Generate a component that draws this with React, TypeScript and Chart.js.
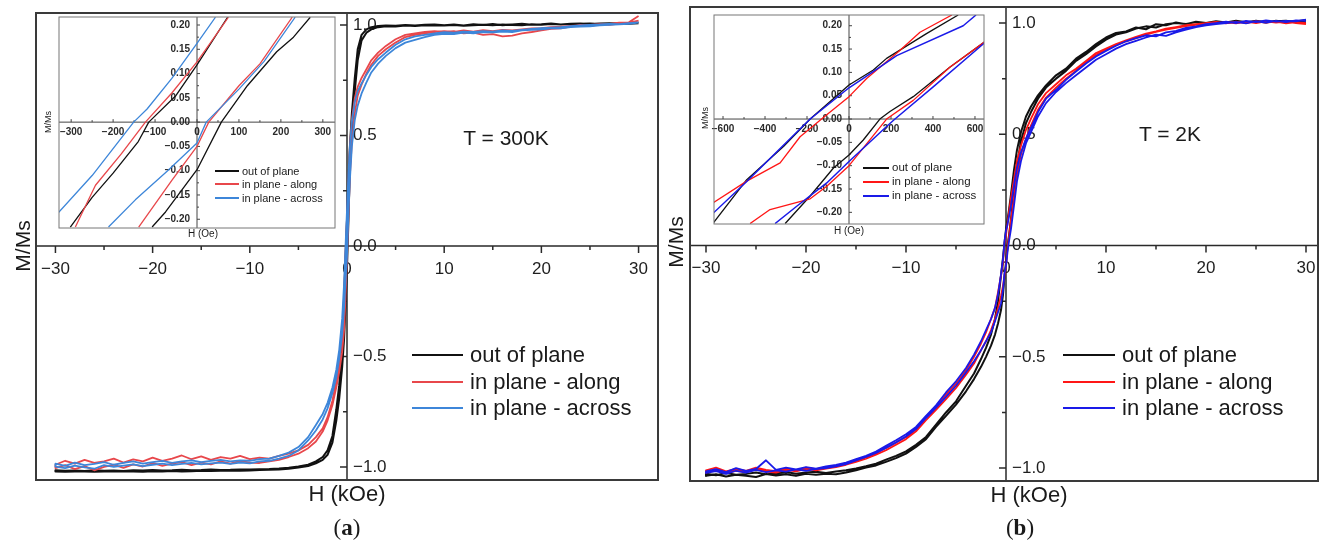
import React, { useEffect, useRef } from 'react';
import { Chart, registerables } from 'chart.js';

Chart.register(...registerables);

// ---------------- data ----------------
// field grid for the main loops (kOe), ascending
const H_MAIN = [
  -30, -29, -28, -27, -26, -25, -24, -23, -22, -21, -20, -19, -18, -17, -16, -15, -14, -13, -12, -11, -10,
  -9, -8, -7, -6, -5, -4, -3.2, -2.5, -2, -1.5, -1.1, -0.8, -0.5, -0.3, -0.15,
  0,
  0.15, 0.3, 0.5, 0.8, 1.1, 1.5, 2, 2.5, 3.2, 4, 5, 6, 7, 8, 9,
  10, 11, 12, 13, 14, 15, 16, 17, 18, 19, 20, 21, 22, 23, 24, 25, 26, 27, 28, 29, 30,
];

// (a) T = 300 K ; UP = branch swept down from +30 kOe, LO = branch swept up from -30 kOe
const A_OOP_UP = [
  -1.015, -1.017, -1.016, -1.018, -1.015, -1.017, -1.016, -1.018, -1.015, -1.016, -1.014, -1.016, -1.015, -1.013, -1.015, -1.014, -1.012, -1.014, -1.013, -1.011, -1.012,
  -1.010, -1.009, -1.007, -1.004, -0.998, -0.990, -0.975, -0.955, -0.925, -0.860, -0.740, -0.630, -0.450, -0.250, -0.050,
  0.118,
  0.300, 0.450, 0.600, 0.760, 0.890, 0.955, 0.980, 0.990, 0.995, 0.998, 0.996, 1.000, 0.997, 1.001, 1.002,
  0.999, 1.002, 0.998, 1.003, 1.000, 1.004, 0.999, 1.002, 1.005, 1.001, 1.003, 1.006, 1.002, 1.005, 1.007, 1.004, 1.006, 1.008, 1.005, 1.007, 1.010,
];
const A_OOP_LO = [
  -1.020, -1.022, -1.021, -1.020, -1.022, -1.021, -1.019, -1.021, -1.020, -1.022, -1.019, -1.020, -1.018, -1.020, -1.019, -1.017, -1.018, -1.017, -1.016, -1.017, -1.016,
  -1.014, -1.013, -1.011, -1.008, -1.003, -0.996, -0.984, -0.968, -0.945, -0.890, -0.790, -0.690, -0.550, -0.420, -0.270,
  -0.098,
  0.120, 0.360, 0.530, 0.700, 0.840, 0.930, 0.965, 0.980, 0.990, 0.994, 0.993, 0.997, 0.995, 0.998, 0.999,
  0.997, 1.000, 0.996, 0.999, 1.001, 0.998, 1.002, 1.000, 0.999, 1.003, 1.001, 1.004, 1.002, 1.005, 1.003, 1.006, 1.004, 1.005, 1.007, 1.005, 1.008,
];
const A_ALONG_UP = [
  -0.990, -0.972, -0.985, -0.968, -0.982, -0.975, -0.962, -0.980, -0.966, -0.975, -0.958, -0.972, -0.962, -0.948, -0.965, -0.952, -0.968, -0.955, -0.962, -0.950, -0.965,
  -0.958, -0.962, -0.950, -0.940, -0.925, -0.900, -0.865, -0.825, -0.775, -0.700, -0.610, -0.520, -0.400, -0.220, -0.030,
  0.124,
  0.300, 0.450, 0.570, 0.670, 0.720, 0.760, 0.800, 0.840, 0.875, 0.905, 0.935, 0.955, 0.962, 0.968, 0.972,
  0.968, 0.972, 0.962, 0.965, 0.955, 0.958, 0.948, 0.952, 0.962, 0.968, 0.975, 0.982, 0.985, 0.992, 1.000, 0.995, 1.003, 1.005, 1.010, 1.012, 1.040,
];
const A_ALONG_LO = [
  -1.005, -0.992, -1.010, -0.996, -1.015, -1.000, -0.990, -1.004, -0.988, -0.998, -0.982, -0.995, -0.985, -0.978, -0.992, -0.980, -0.988, -0.975, -0.985, -0.972, -0.980,
  -0.982, -0.975, -0.968, -0.955, -0.940, -0.915, -0.885, -0.840, -0.790, -0.720, -0.640, -0.570, -0.480, -0.380, -0.225,
  -0.050,
  0.140, 0.320, 0.470, 0.600, 0.680, 0.730, 0.780, 0.820, 0.860, 0.890, 0.920, 0.945, 0.955, 0.962, 0.968,
  0.972, 0.968, 0.975, 0.970, 0.976, 0.972, 0.978, 0.975, 0.980, 0.984, 0.985, 0.990, 0.992, 0.996, 0.998, 1.000, 1.003, 1.000, 1.006, 1.010, 1.020,
];
const A_ACROSS_UP = [
  -0.985, -0.995, -0.980, -0.992, -0.986, -0.978, -0.990, -0.982, -0.975, -0.985, -0.978, -0.972, -0.982, -0.975, -0.970, -0.978, -0.972, -0.968, -0.975, -0.970, -0.972,
  -0.965, -0.962, -0.950, -0.935, -0.910, -0.865, -0.810, -0.760, -0.710, -0.640, -0.560, -0.470, -0.330, -0.170, 0.000,
  0.162,
  0.330, 0.450, 0.560, 0.650, 0.700, 0.735, 0.775, 0.810, 0.845, 0.875, 0.910, 0.935, 0.948, 0.955, 0.962,
  0.967, 0.965, 0.970, 0.968, 0.972, 0.970, 0.975, 0.973, 0.978, 0.982, 0.985, 0.988, 0.990, 0.995, 0.998, 1.000, 1.002, 1.005, 1.004, 1.008, 1.012,
];
const A_ACROSS_LO = [
  -0.998, -1.005, -0.994, -1.002, -1.008, -0.992, -1.000, -0.994, -0.988, -0.996, -0.990, -0.985, -0.992, -0.986, -0.982, -0.988, -0.984, -0.980, -0.986, -0.980, -0.984,
  -0.975, -0.972, -0.962, -0.950, -0.925, -0.880, -0.835, -0.785, -0.735, -0.665, -0.595, -0.510, -0.400, -0.280, -0.160,
  -0.043,
  0.150, 0.300, 0.450, 0.570, 0.635, 0.690, 0.740, 0.785, 0.825, 0.860, 0.895, 0.920, 0.932, 0.945, 0.955,
  0.960, 0.958, 0.965, 0.962, 0.968, 0.966, 0.970, 0.968, 0.975, 0.978, 0.980, 0.984, 0.985, 0.990, 0.992, 0.994, 0.998, 1.000, 1.003, 1.005, 1.010,
];

// (b) T = 2 K
const B_OOP_UP = [
  -1.025, -1.032, -1.022, -1.030, -1.026, -1.020, -1.028, -1.024, -1.018, -1.025, -1.020, -1.016, -1.022, -1.015, -1.010, -1.002, -0.992, -0.980, -0.962, -0.945, -0.925,
  -0.895, -0.860, -0.805, -0.750, -0.700, -0.630, -0.575, -0.510, -0.460, -0.400, -0.330, -0.250, -0.135, -0.055, 0.010,
  0.072,
  0.115, 0.160, 0.230, 0.340, 0.430, 0.510, 0.580, 0.625, 0.675, 0.720, 0.765, 0.795, 0.840, 0.870, 0.905,
  0.935, 0.955, 0.962, 0.980, 0.972, 0.995, 0.990, 1.002, 0.995, 1.006, 1.000, 1.008, 1.002, 1.010, 1.004, 1.008, 1.002, 1.010, 1.005, 1.008, 1.012,
];
const B_OOP_LO = [
  -1.035, -1.028, -1.038, -1.030, -1.034, -1.040, -1.027, -1.033, -1.028, -1.035, -1.026, -1.030, -1.025, -1.028, -1.020, -1.010, -0.998, -0.988, -0.972, -0.955, -0.935,
  -0.905, -0.870, -0.815, -0.765, -0.715, -0.655, -0.600, -0.545, -0.500, -0.450, -0.400, -0.350, -0.290, -0.220, -0.140,
  -0.077,
  0.000, 0.045, 0.120, 0.240, 0.360, 0.470, 0.550, 0.600, 0.660, 0.710, 0.750, 0.785, 0.830, 0.860, 0.895,
  0.925, 0.948, 0.958, 0.975, 0.985, 0.980, 0.995, 1.000, 0.996, 1.004, 0.998, 1.006, 1.000, 1.008, 1.002, 1.010, 1.004, 1.008, 1.010, 1.004, 1.005,
];
const B_ALONG_UP = [
  -1.010, -0.998, -1.015, -1.004, -1.012, -0.998, -1.008, -1.014, -1.002, -1.010, -0.998, -1.005, -0.996, -0.990, -0.978, -0.965, -0.950, -0.932, -0.910, -0.885, -0.860,
  -0.825, -0.772, -0.728, -0.670, -0.620, -0.560, -0.500, -0.440, -0.390, -0.330, -0.280, -0.210, -0.135, -0.075, 0.010,
  0.048,
  0.100, 0.150, 0.215, 0.300, 0.380, 0.450, 0.520, 0.570, 0.635, 0.685, 0.725, 0.765, 0.795, 0.830, 0.865,
  0.885, 0.905, 0.922, 0.938, 0.952, 0.962, 0.975, 0.982, 0.990, 0.995, 1.000, 1.005, 0.998, 1.006, 1.000, 1.008, 1.002, 1.006, 0.998, 1.004, 1.000,
];
const B_ALONG_LO = [
  -1.020, -1.010, -1.022, -1.012, -1.018, -1.006, -1.016, -1.020, -1.008, -1.015, -1.004, -1.010, -1.002, -0.996, -0.985, -0.972, -0.958, -0.940, -0.920, -0.895, -0.870,
  -0.835, -0.785, -0.738, -0.690, -0.640, -0.580, -0.530, -0.470, -0.430, -0.380, -0.330, -0.280, -0.225, -0.180, -0.135,
  -0.094,
  -0.010, 0.040, 0.115, 0.220, 0.320, 0.410, 0.480, 0.540, 0.610, 0.665, 0.710, 0.750, 0.785, 0.822, 0.855,
  0.878, 0.900, 0.918, 0.932, 0.948, 0.960, 0.970, 0.978, 0.986, 0.992, 0.996, 1.000, 1.004, 0.998, 1.006, 1.000, 1.008, 1.002, 1.006, 1.000, 0.995,
];
const B_ACROSS_UP = [
  -1.015, -1.005, -1.018, -1.000, -1.012, -1.004, -0.965, -1.008, -0.998, -1.006, -0.996, -1.002, -0.992, -0.986, -0.975, -0.960, -0.945, -0.926, -0.900, -0.875, -0.848,
  -0.815, -0.765, -0.718, -0.660, -0.610, -0.550, -0.490, -0.430, -0.380, -0.330, -0.280, -0.220, -0.130, -0.060, 0.020,
  0.067,
  0.095, 0.130, 0.180, 0.270, 0.350, 0.420, 0.480, 0.530, 0.600, 0.660, 0.700, 0.745, 0.782, 0.818, 0.850,
  0.875, 0.898, 0.918, 0.932, 0.945, 0.940, 0.958, 0.965, 0.978, 0.985, 0.995, 1.000, 1.006, 1.000, 1.010, 1.004, 1.012, 1.006, 1.010, 1.008, 1.015,
];
const B_ACROSS_LO = [
  -1.022, -1.014, -1.026, -1.012, -1.020, -1.008, -1.018, -1.010, -1.016, -1.006, -1.012, -1.004, -1.000, -0.992, -0.982, -0.966, -0.950, -0.932, -0.910, -0.885, -0.858,
  -0.825, -0.775, -0.728, -0.680, -0.630, -0.570, -0.520, -0.470, -0.430, -0.390, -0.340, -0.300, -0.260, -0.200, -0.125,
  -0.091,
  -0.030, 0.020, 0.075, 0.180, 0.290, 0.380, 0.460, 0.510, 0.580, 0.640, 0.690, 0.730, 0.765, 0.800, 0.835,
  0.860, 0.885, 0.905, 0.920, 0.935, 0.948, 0.942, 0.958, 0.970, 0.982, 0.990, 0.995, 1.000, 1.005, 0.998, 1.008, 1.002, 1.010, 1.004, 1.012, 1.010,
];

// insets (Oe)
const IA_OOP_UP_H = [-302, -250, -200, -140, -115, -50, 0, 73];
const IA_OOP_UP_M = [-0.216, -0.155, -0.105, -0.04, 0, 0.055, 0.118, 0.216];
const IA_OOP_LO_H = [-107, -75, 0, 58, 120, 190, 230, 270];
const IA_OOP_LO_M = [-0.216, -0.185, -0.098, 0, 0.075, 0.145, 0.175, 0.216];
const IA_ALONG_UP_H = [-290, -242, -180, -123, -60, 0, 75];
const IA_ALONG_UP_M = [-0.216, -0.13, -0.065, 0, 0.06, 0.124, 0.216];
const IA_ALONG_LO_H = [-139, -60, 0, 28, 100, 150, 227];
const IA_ALONG_LO_M = [-0.216, -0.12, -0.05, 0, 0.075, 0.12, 0.216];
const IA_ACROSS_UP_H = [-331, -250, -151, -119, -60, 0, 44];
const IA_ACROSS_UP_M = [-0.187, -0.11, 0, 0.027, 0.09, 0.162, 0.216];
const IA_ACROSS_LO_H = [-211, -147, -70, 0, 22, 100, 160, 234];
const IA_ACROSS_LO_M = [-0.216, -0.16, -0.1, -0.043, 0, 0.068, 0.125, 0.216];

const IB_OOP_UP_H = [-645, -487, -312, -185, 0, 116, 179, 369, 520];
const IB_OOP_UP_M = [-0.222, -0.13, -0.059, 0, 0.073, 0.105, 0.13, 0.183, 0.223];
const IB_OOP_LO_H = [-304, -185, -74, 0, 68, 147, 195, 306, 480, 645];
const IB_OOP_LO_M = [-0.224, -0.165, -0.105, -0.077, -0.045, 0, 0.016, 0.048, 0.111, 0.165];
const IB_ALONG_UP_H = [-645, -487, -328, -233, -106, 0, 84, 242, 338, 490];
const IB_ALONG_UP_M = [-0.179, -0.133, -0.094, -0.038, 0.009, 0.048, 0.087, 0.147, 0.186, 0.223];
const IB_ALONG_LO_H = [-471, -376, -185, -106, 0, 179, 306, 480, 645];
const IB_ALONG_LO_M = [-0.224, -0.194, -0.171, -0.144, -0.1, 0, 0.04, 0.111, 0.165];
const IB_ACROSS_UP_H = [-645, -487, -328, -185, 0, 68, 227, 544, 605];
const IB_ACROSS_UP_M = [-0.201, -0.134, -0.063, 0, 0.067, 0.087, 0.136, 0.2, 0.223];
const IB_ACROSS_LO_H = [-352, -249, -106, 0, 179, 219, 401, 645];
const IB_ACROSS_LO_M = [-0.224, -0.187, -0.137, -0.091, -0.016, 0, 0.069, 0.163];

// ticks
const MAIN_X_TICKS = [-30, -20, -10, 0, 10, 20, 30];
const MAIN_X_LABELS = ['−30', '−20', '−10', '0', '10', '20', '30'];
const MAIN_X_MINOR = [-25, -15, -5, 5, 15, 25];
const MAIN_Y_TICKS = [-1, -0.5, 0, 0.5, 1];
const MAIN_Y_LABELS = ['−1.0', '−0.5', '0.0', '0.5', '1.0'];
const MAIN_Y_MINOR = [-0.75, -0.25, 0.25, 0.75];
const IA_X_TICKS = [-300, -200, -100, 0, 100, 200, 300];
const IA_X_LABELS = ['−300', '−200', '−100', '0', '100', '200', '300'];
const IA_X_MINOR = [-250, -150, -50, 50, 150, 250];
const IB_X_TICKS = [-600, -400, -200, 0, 200, 400, 600];
const IB_X_LABELS = ['−600', '−400', '−200', '0', '200', '400', '600'];
const IB_X_MINOR = [-500, -300, -100, 100, 300, 500];
const IN_Y_TICKS = [-0.2, -0.15, -0.1, -0.05, 0, 0.05, 0.1, 0.15, 0.2];
const IN_Y_LABELS = ['−0.20', '−0.15', '−0.10', '−0.05', '0.00', '0.05', '0.10', '0.15', '0.20'];
const IN_Y_MINOR = [-0.175, -0.125, -0.075, -0.025, 0.025, 0.075, 0.125, 0.175];

const LEGEND = ['out of plane', 'in plane - along', 'in plane - across'];
const COLORS_A = ['#111111', '#e8474b', '#3d86d9'];
const COLORS_B = ['#111111', '#ff1616', '#1a1ae8'];

const SANS = '"Liberation Sans", Arial, Helvetica, sans-serif';

// ---------------- helpers ----------------
const pts = (H: number[], M: number[]) => H.map((h, i) => ({ x: h, y: M[i] }));
const loop = (H: number[], up: number[], lo: number[]) => [...pts(H, up).reverse(), ...pts(H, lo)];

function axesPlugin(c: any) {
  return {
    id: 'crossAxes',
    beforeDraw(chart: any) {
      if (!c.background) return;
      const a = chart.chartArea;
      const ctx = chart.ctx;
      ctx.save();
      ctx.fillStyle = c.background;
      ctx.fillRect(a.left, a.top, a.right - a.left, a.bottom - a.top);
      ctx.restore();
    },
    beforeDatasetsDraw(chart: any) {
      const { ctx, chartArea: a } = chart;
      const xs = chart.scales.x;
      const ys = chart.scales.y;
      const x0 = xs.getPixelForValue(0);
      const y0 = ys.getPixelForValue(0);
      ctx.save();
      ctx.strokeStyle = c.axisColor;
      ctx.lineWidth = c.axisWidth;
      ctx.beginPath();
      ctx.moveTo(x0, a.top);
      ctx.lineTo(x0, a.bottom);
      ctx.moveTo(a.left, y0);
      ctx.lineTo(a.right, y0);
      c.xMajor.forEach((v: number) => {
        const p = xs.getPixelForValue(v);
        ctx.moveTo(p, y0);
        ctx.lineTo(p, y0 + c.xTickDir * c.majorLen);
      });
      c.xMinor.forEach((v: number) => {
        const p = xs.getPixelForValue(v);
        ctx.moveTo(p, y0);
        ctx.lineTo(p, y0 + c.xTickDir * c.minorLen);
      });
      c.yMajor.forEach((v: number) => {
        const p = ys.getPixelForValue(v);
        ctx.moveTo(x0, p);
        ctx.lineTo(x0 + c.yTickDir * c.majorLen, p);
      });
      c.yMinor.forEach((v: number) => {
        const p = ys.getPixelForValue(v);
        ctx.moveTo(x0, p);
        ctx.lineTo(x0 + c.yTickDir * c.minorLen, p);
      });
      ctx.stroke();
      ctx.fillStyle = c.color;
      ctx.font = c.font;
      ctx.textBaseline = 'middle';
      ctx.textAlign = 'center';
      c.xMajor.forEach((v: number, i: number) => {
        ctx.fillText(c.xLabels[i], xs.getPixelForValue(v), y0 + c.xLabelDy);
      });
      ctx.textAlign = c.yLabelSide > 0 ? 'left' : 'right';
      c.yMajor.forEach((v: number, i: number) => {
        ctx.fillText(c.yLabels[i], x0 + c.yLabelSide * c.yLabelDx, ys.getPixelForValue(v));
      });
      ctx.restore();
    },
    afterDatasetsDraw(chart: any) {
      const { ctx, chartArea: a } = chart;
      ctx.save();
      ctx.strokeStyle = c.frameColor;
      ctx.lineWidth = c.frameWidth;
      ctx.strokeRect(a.left, a.top, a.right - a.left, a.bottom - a.top);
      ctx.restore();
    },
  };
}

function makeConfig(datasets: any[], xr: number[], yr: number[], pad: any, axes: any) {
  return {
    type: 'scatter',
    data: { datasets },
    options: {
      responsive: false,
      maintainAspectRatio: false,
      animation: false,
      events: [],
      layout: { padding: pad },
      scales: {
        x: { type: 'linear', min: xr[0], max: xr[1], display: false },
        y: { type: 'linear', min: yr[0], max: yr[1], display: false },
      },
      elements: { point: { radius: 0 }, line: { tension: 0 } },
      plugins: { legend: { display: false }, tooltip: { enabled: false } },
    },
    plugins: [axesPlugin(axes)],
  };
}

const lineDs = (data: any[], color: string, width: number, order: number) => ({
  data,
  showLine: true,
  borderColor: color,
  backgroundColor: color,
  borderWidth: width,
  pointRadius: 0,
  fill: false,
  order,
  borderJoinStyle: 'round',
});

const mainAxes = {
  xMajor: MAIN_X_TICKS, xLabels: MAIN_X_LABELS, xMinor: MAIN_X_MINOR,
  yMajor: MAIN_Y_TICKS, yLabels: MAIN_Y_LABELS, yMinor: MAIN_Y_MINOR,
  font: `17px ${SANS}`, color: '#1e1e1e',
  majorLen: 7, minorLen: 4, xTickDir: 1, yTickDir: -1,
  xLabelDy: 23, yLabelSide: 1, yLabelDx: 6,
  axisWidth: 1.5, axisColor: '#2a2a2a', frameWidth: 2, frameColor: '#3a3a3a',
};

const insetAxes = (xMajor: number[], xLabels: string[], xMinor: number[]) => ({
  xMajor, xLabels, xMinor,
  yMajor: IN_Y_TICKS, yLabels: IN_Y_LABELS, yMinor: IN_Y_MINOR,
  font: `bold 10px ${SANS}`, color: '#2a2a2a',
  majorLen: 3, minorLen: 2, xTickDir: -1, yTickDir: 1,
  xLabelDy: 10, yLabelSide: -1, yLabelDx: 7,
  axisWidth: 1, axisColor: '#444', frameWidth: 1, frameColor: '#777',
  background: '#ffffff',
});

function configA() {
  const ds = [
    lineDs(loop(H_MAIN, A_OOP_UP, A_OOP_LO), COLORS_A[0], 2, 2),
    lineDs(loop(H_MAIN, A_ALONG_UP, A_ALONG_LO), COLORS_A[1], 1.8, 1),
    lineDs(loop(H_MAIN, A_ACROSS_UP, A_ACROSS_LO), COLORS_A[2], 1.8, 0),
  ];
  return makeConfig(ds, [-32, 32], [-1.059, 1.054], { left: 36, top: 13, right: 6, bottom: 65 }, mainAxes);
}
function configB() {
  const ds = [
    lineDs(loop(H_MAIN, B_OOP_UP, B_OOP_LO), COLORS_B[0], 2, 2),
    lineDs(loop(H_MAIN, B_ALONG_UP, B_ALONG_LO), COLORS_B[1], 1.8, 1),
    lineDs(loop(H_MAIN, B_ACROSS_UP, B_ACROSS_LO), COLORS_B[2], 1.8, 0),
  ];
  return makeConfig(ds, [-31.6, 31.2], [-1.058, 1.072], { left: 26, top: 7, right: 5, bottom: 64 }, mainAxes);
}
function configIA() {
  const ds = [
    lineDs(pts(IA_OOP_UP_H, IA_OOP_UP_M), COLORS_A[0], 1.3, 2),
    lineDs(pts(IA_OOP_LO_H, IA_OOP_LO_M), COLORS_A[0], 1.3, 2),
    lineDs(pts(IA_ALONG_UP_H, IA_ALONG_UP_M), COLORS_A[1], 1.3, 1),
    lineDs(pts(IA_ALONG_LO_H, IA_ALONG_LO_M), COLORS_A[1], 1.3, 1),
    lineDs(pts(IA_ACROSS_UP_H, IA_ACROSS_UP_M), COLORS_A[2], 1.3, 0),
    lineDs(pts(IA_ACROSS_LO_H, IA_ACROSS_LO_M), COLORS_A[2], 1.3, 0),
  ];
  return makeConfig(ds, [-329, 329], [-0.218, 0.2165], { left: 14, top: 7, right: 10, bottom: 12 },
    insetAxes(IA_X_TICKS, IA_X_LABELS, IA_X_MINOR));
}
function configIB() {
  const ds = [
    lineDs(pts(IB_OOP_UP_H, IB_OOP_UP_M), COLORS_B[0], 1.3, 2),
    lineDs(pts(IB_OOP_LO_H, IB_OOP_LO_M), COLORS_B[0], 1.3, 2),
    lineDs(pts(IB_ALONG_UP_H, IB_ALONG_UP_M), COLORS_B[1], 1.3, 1),
    lineDs(pts(IB_ALONG_LO_H, IB_ALONG_LO_M), COLORS_B[1], 1.3, 1),
    lineDs(pts(IB_ACROSS_UP_H, IB_ACROSS_UP_M), COLORS_B[2], 1.5, 0),
    lineDs(pts(IB_ACROSS_LO_H, IB_ACROSS_LO_M), COLORS_B[2], 1.5, 0),
  ];
  return makeConfig(ds, [-643, 643], [-0.225, 0.223], { left: 14, top: 7, right: 11, bottom: 9 },
    insetAxes(IB_X_TICKS, IB_X_LABELS, IB_X_MINOR));
}

function ChartCanvas(props: { left: number; top: number; width: number; height: number; make: () => any; z: number }) {
  const ref = useRef<HTMLCanvasElement>(null);
  useEffect(() => {
    const chart = new Chart(ref.current as HTMLCanvasElement, props.make() as any);
    return () => chart.destroy();
  }, []);
  return (
    <canvas
      ref={ref}
      width={props.width}
      height={props.height}
      style={{ position: 'absolute', left: props.left, top: props.top, width: props.width, height: props.height, zIndex: props.z }}
    />
  );
}

function Txt(p: { x: number; y: number; size: number; children: any; align?: 'center' | 'left'; rotate?: boolean; family?: string; weight?: string }) {
  const tr = p.align === 'left' ? 'translate(0,-50%)' : 'translate(-50%,-50%)';
  return (
    <div
      style={{
        position: 'absolute', left: p.x, top: p.y, fontSize: p.size, lineHeight: 1,
        fontFamily: p.family || SANS, fontWeight: (p.weight as any) || 'normal', color: '#1a1a1a',
        whiteSpace: 'nowrap', transform: tr + (p.rotate ? ' rotate(-90deg)' : ''), zIndex: 5,
      }}
    >
      {p.children}
    </div>
  );
}

function Legend(p: { x1: number; x2: number; tx: number; ys: number[]; colors: string[]; size: number; lw: number }) {
  return (
    <>
      {LEGEND.map((name, i) => (
        <React.Fragment key={name}>
          <div style={{ position: 'absolute', left: p.x1, top: p.ys[i] - p.lw / 2, width: p.x2 - p.x1, height: p.lw, background: p.colors[i], zIndex: 5 }} />
          <Txt x={p.tx} y={p.ys[i]} size={p.size} align="left">{name}</Txt>
        </React.Fragment>
      ))}
    </>
  );
}

export default function App() {
  return (
    <div style={{ position: 'absolute', left: 0, top: 0, width: 1323, height: 545, background: '#ffffff', overflow: 'hidden' }}>
      <ChartCanvas left={0} top={0} width={664} height={545} make={configA} z={1} />
      <ChartCanvas left={664} top={0} width={659} height={545} make={configB} z={1} />
      <ChartCanvas left={45} top={10} width={300} height={230} make={configIA} z={2} />
      <ChartCanvas left={700} top={8} width={295} height={225} make={configIB} z={2} />

      {/* panel (a) texts */}
      <Txt x={22} y={246} size={21} rotate>M/Ms</Txt>
      <Txt x={347} y={494} size={22}>H (kOe)</Txt>
      <Txt x={347} y={527} size={23} family={'"Liberation Serif", "Times New Roman", serif'}>(<b>a</b>)</Txt>
      <Txt x={506} y={137} size={21}>T = 300K</Txt>
      <Legend x1={412} x2={463} tx={470} ys={[355, 382, 408]} colors={COLORS_A} size={22} lw={2.2} />
      <Txt x={48} y={122} size={9} rotate>M/Ms</Txt>
      <Txt x={203} y={234} size={10}>H (Oe)</Txt>
      <Legend x1={215} x2={239} tx={242} ys={[171, 184, 198]} colors={COLORS_A} size={11} lw={1.5} />

      {/* panel (b) texts */}
      <Txt x={675} y={242} size={21} rotate>M/Ms</Txt>
      <Txt x={1029} y={495} size={22}>H (kOe)</Txt>
      <Txt x={1020} y={527} size={23} family={'"Liberation Serif", "Times New Roman", serif'}>(<b>b</b>)</Txt>
      <Txt x={1170} y={133} size={21}>T = 2K</Txt>
      <Legend x1={1063} x2={1115} tx={1122} ys={[355, 382, 408]} colors={COLORS_B} size={22} lw={2.4} />
      <Txt x={705} y={118} size={9} rotate>M/Ms</Txt>
      <Txt x={849} y={231} size={10}>H (Oe)</Txt>
      <Legend x1={863} x2={889} tx={892} ys={[168, 182, 196]} colors={COLORS_B} size={11.5} lw={1.6} />
    </div>
  );
}
